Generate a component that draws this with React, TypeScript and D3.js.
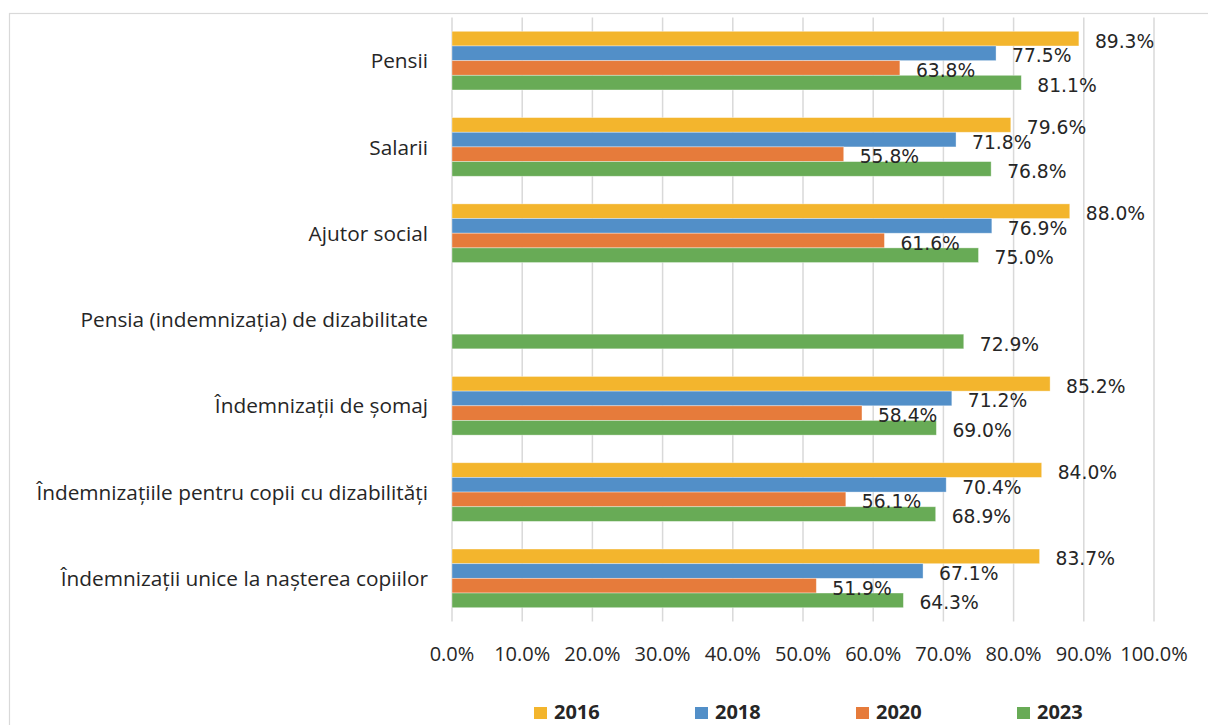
import * as d3 from 'd3';
import * as React from 'react';

const width = 1208;
const height = 725;

const categories = [
  'Pensii',
  'Salarii',
  'Ajutor social',
  'Pensia (indemnizația) de dizabilitate',
  'Îndemnizații de șomaj',
  'Îndemnizațiile pentru copii cu dizabilități',
  'Îndemnizații unice la nașterea copiilor',
];

const years = ['2016', '2018', '2020', '2023'];

const values2016 = [89.3, 79.6, 88.0, null, 85.2, 84.0, 83.7];
const values2018 = [77.5, 71.8, 76.9, null, 71.2, 70.4, 67.1];
const values2020 = [63.8, 55.8, 61.6, null, 58.4, 56.1, 51.9];
const values2023 = [81.1, 76.8, 75.0, 72.9, 69.0, 68.9, 64.3];

const xTicks = [0, 10, 20, 30, 40, 50, 60, 70, 80, 90, 100];

const colors = ['#F3B52D', '#528FC8', '#E67B3B', '#68AB56'];

type Datum = { cat: string; year: string; value: number | null; color: string };

const series = [values2016, values2018, values2020, values2023];

export default () => {
  const x = d3.scaleLinear().domain([0, 100]).range([452, 1154]);
  const y = d3
    .scaleBand()
    .domain(categories)
    .range([17.5, 621.5])
    .paddingInner(0.32)
    .paddingOuter(0.16);
  const yInner = d3.scaleBand().domain(years).range([0, y.bandwidth()]);

  const bars: Datum[] = [];
  categories.forEach((cat, i) => {
    years.forEach((year, j) => {
      bars.push({ cat, year, value: series[j][i], color: colors[j] });
    });
  });

  const fmt = (v: number) => `${v.toFixed(1)}%`;
  const textColor = '#262626';

  return (
    <svg
      width={width}
      height={height}
      style={{ position: 'absolute', left: 0, top: 0, background: '#fff' }}
    >
      <rect x={9.5} y={13.5} width={1220} height={760} fill="#fff" stroke="#d9d9d9" strokeWidth={1.2} />

      {/* grid */}
      {xTicks.map(t => (
        <line
          key={t}
          x1={x(t)}
          x2={x(t)}
          y1={17.5}
          y2={621.5}
          stroke="#d9d9d9"
          strokeWidth={1.5}
        />
      ))}

      {/* bars */}
      {bars
        .filter(d => d.value !== null)
        .map(d => (
          <rect
            key={d.cat + d.year}
            x={x(0)}
            y={(y(d.cat) as number) + (yInner(d.year) as number)}
            width={x(d.value as number) - x(0)}
            height={yInner.bandwidth()}
            fill={d.color}
            stroke="#ffffff"
            strokeOpacity={0.45}
            strokeWidth={0.8}
          />
        ))}

      {/* data labels */}
      {bars
        .filter(d => d.value !== null)
        .map(d => (
          <text
            key={'l' + d.cat + d.year}
            x={x(d.value as number) + 16}
            y={(y(d.cat) as number) + (yInner(d.year) as number) + yInner.bandwidth() / 2 + 9}
            fontFamily="DejaVu Sans"
            fontSize={18.7}
            fill={textColor}
          >
            {fmt(d.value as number)}
          </text>
        ))}

      {/* category labels */}
      {categories.map(c => (
        <text
          key={c}
          x={428}
          y={(y(c) as number) + y.bandwidth() / 2 + 7.6}
          textAnchor="end"
          fontFamily="Open Sans"
          fontSize={20.8}
          fill={textColor}
        >
          {c}
        </text>
      ))}

      {/* x axis tick labels */}
      {xTicks.map(t => (
        <text
          key={'t' + t}
          x={x(t)}
          y={661}
          textAnchor="middle"
          fontFamily="Open Sans"
          fontSize={20}
          fill={textColor}
        >
          {fmt(t)}
        </text>
      ))}

      {/* legend */}
      {years.map((yr, i) => (
        <g key={yr} transform={`translate(${534 + i * 161},0)`}>
          <rect x={0} y={707} width={13} height={12} fill={colors[i]} />
          <text
            x={20}
            y={719}
            fontFamily="Open Sans"
            fontWeight="bold"
            fontSize={20}
            fill={textColor}
          >
            {yr}
          </text>
        </g>
      ))}
    </svg>
  );
};
